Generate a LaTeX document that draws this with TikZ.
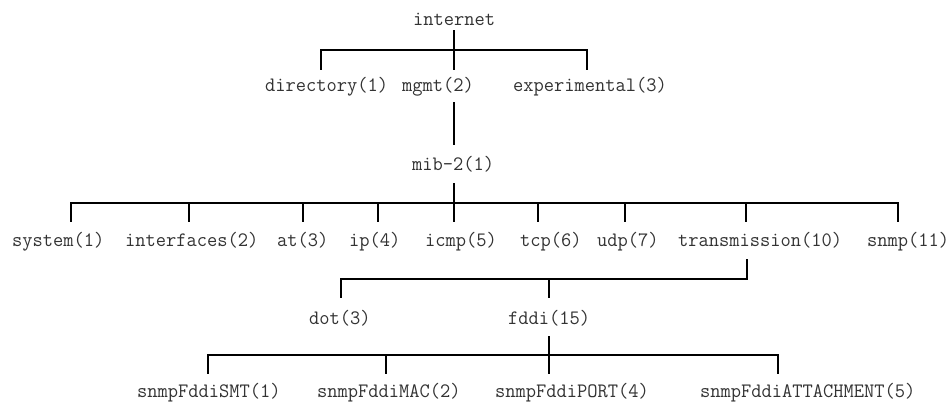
\documentclass[tikz,border=0pt]{standalone}
\usepackage{fontspec}
\setmonofont[FakeStretch=0.971]{Latin Modern Mono}
\begin{document}
\begin{tikzpicture}[x=1pt,y=-1pt,
  lbl/.style={anchor=base west,inner sep=0pt,text=black!80,font=\ttfamily\fontsize{20.5}{24}\selectfont},
  tree/.style={draw=black,line width=1.9pt,line cap=rect,line join=miter}]
\useasboundingbox (0,0) rectangle (949,403);
% labels
\node[lbl] (internet) at (413,26) {internet};
\node[lbl] (directory) at (265,92) {directory(1)};
\node[lbl] (mgmt) at (402,92) {mgmt(2)};
\node[lbl] (experimental) at (513,92) {experimental(3)};
\node[lbl] (mib) at (412,171) {mib-2(1)};
\node[lbl] (system) at (12,247) {system(1)};
\node[lbl] (interfaces) at (125,247) {interfaces(2)};
\node[lbl] (at) at (277,247) {at(3)};
\node[lbl] (ip) at (349,247) {ip(4)};
\node[lbl] (icmp) at (425,247) {icmp(5)};
\node[lbl] (tcp) at (520,247) {tcp(6)};
\node[lbl] (udp) at (597,247) {udp(7)};
\node[lbl] (transmission) at (678,247) {transmission(10)};
\node[lbl] (snmp) at (867,247) {snmp(11)};
\node[lbl] (dot) at (309,324) {dot(3)};
\node[lbl] (fddi) at (508,324) {fddi(15)};
\node[lbl] (smt) at (137,397) {snmpFddiSMT(1)};
\node[lbl] (mac) at (317,397) {snmpFddiMAC(2)};
\node[lbl] (port) at (495,397) {snmpFddiPORT(4)};
\node[lbl] (att) at (700,397) {snmpFddiATTACHMENT(5)};
% tree 1: internet
\coordinate (t1s) at (454,31);
\coordinate (t1e) at (454,69);
\coordinate (t1l) at (321,50);
\coordinate (t1ld) at (321,69);
\coordinate (t1r) at (587,50);
\coordinate (t1rd) at (587,69);
\draw[tree] (t1s) -- (t1e);
\draw[tree] (t1ld) -- (t1l) -- (t1r) -- (t1rd);
% tree 2: mgmt -> mib-2
\coordinate (t2s) at (454,103);
\coordinate (t2e) at (454,144);
\draw[tree] (t2s) -- (t2e);
% tree 3: mib-2
\coordinate (t3s) at (454,184);
\coordinate (t3e) at (454,221);
\draw[tree] (t3s) -- (t3e);
\coordinate (t3l) at (71,203);
\coordinate (t3r) at (898,203);
\coordinate (t3ld) at (71,221);
\coordinate (t3rd) at (898,221);
\draw[tree] (t3ld) -- (t3l) -- (t3r) -- (t3rd);
\foreach \n/\x in {a/189,b/303,c/378,d/538,e/625,f/746}{
  \coordinate (t3\n u) at (\x,203);
  \coordinate (t3\n d) at (\x,221);
  \draw[tree] (t3\n u) -- (t3\n d);
}
% tree 4: transmission
\coordinate (t4s) at (747,260);
\coordinate (t4c) at (747,279);
\coordinate (t4l) at (341,279);
\coordinate (t4ld) at (341,297);
\coordinate (t4m) at (549,279);
\coordinate (t4md) at (549,297);
\draw[tree] (t4s) -- (t4c) -- (t4l) -- (t4ld);
\draw[tree] (t4m) -- (t4md);
% tree 5: fddi
\coordinate (t5s) at (549,337);
\coordinate (t5e) at (549,373);
\draw[tree] (t5s) -- (t5e);
\coordinate (t5l) at (208,355);
\coordinate (t5ld) at (208,373);
\coordinate (t5r) at (778,355);
\coordinate (t5rd) at (778,373);
\draw[tree] (t5ld) -- (t5l) -- (t5r) -- (t5rd);
\coordinate (t5mu) at (386,355);
\coordinate (t5md) at (386,373);
\draw[tree] (t5mu) -- (t5md);
\end{tikzpicture}
\end{document}
